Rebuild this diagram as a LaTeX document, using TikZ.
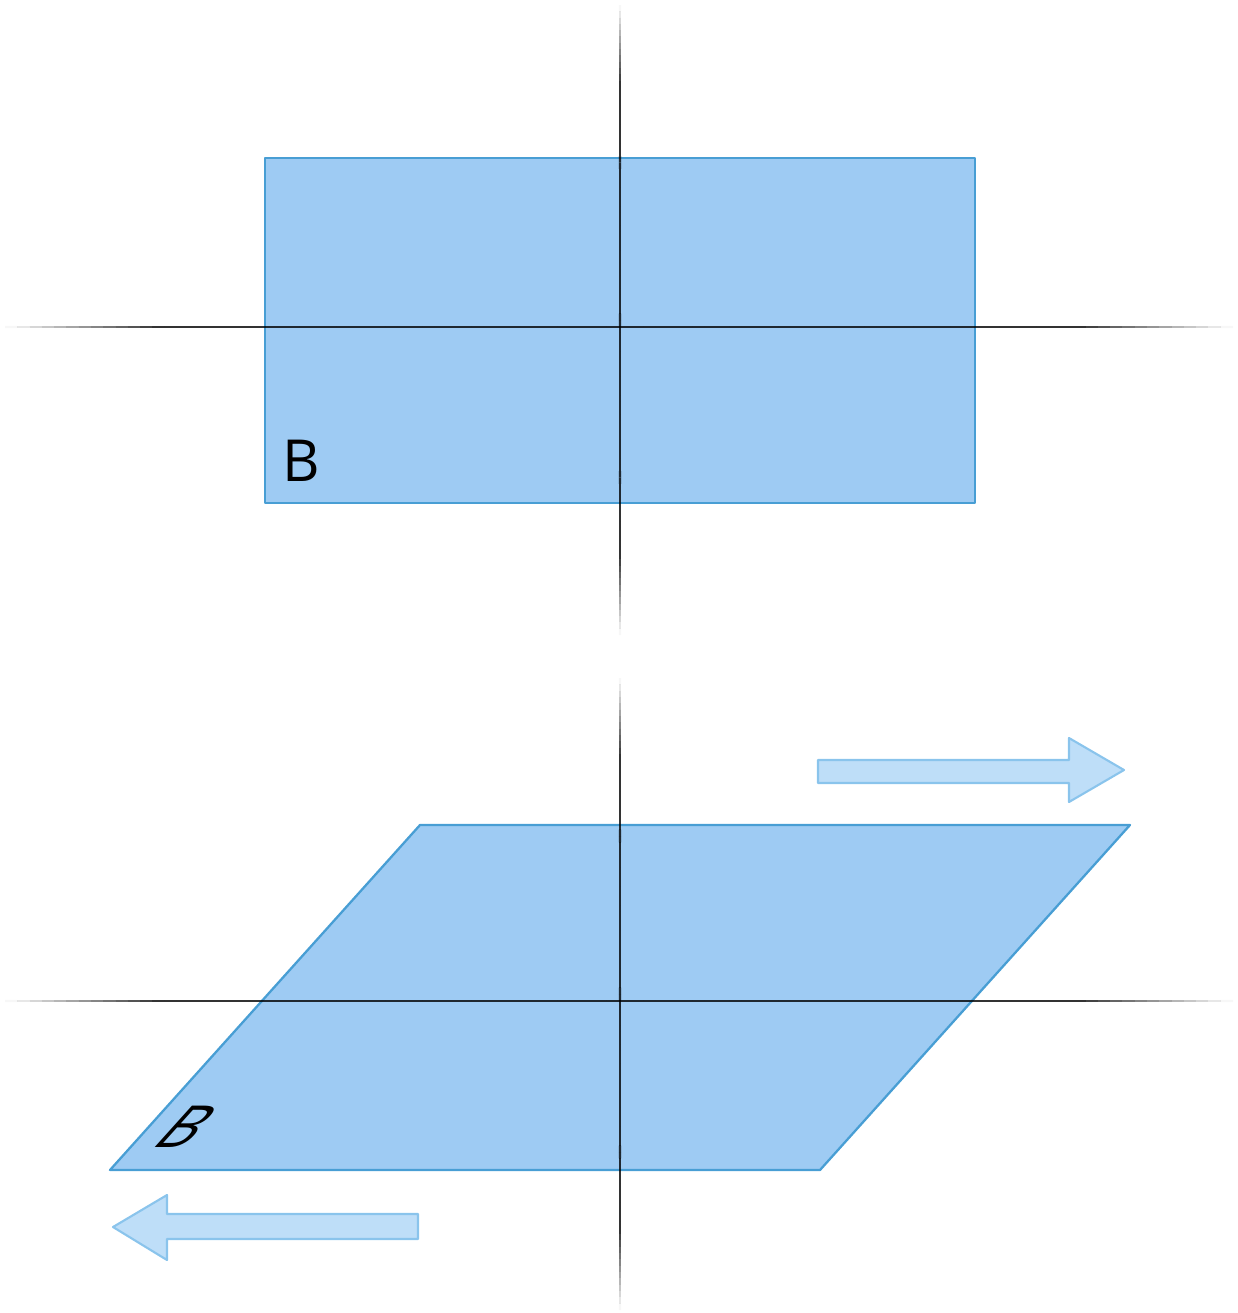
\documentclass[tikz,border=0pt]{standalone}
\usepackage{fontspec}
\newfontfamily\labelfont{Open Sans}
\usetikzlibrary{calc}
\definecolor{plate}{RGB}{158,203,243}
\definecolor{plateedge}{RGB}{72,158,212}
\definecolor{shiftfill}{RGB}{190,222,248}
\definecolor{shiftedge}{RGB}{138,196,236}

% axis line that fades out at both ends
\newcommand{\fadeaxis}[2]{%
  \foreach \i in {0,...,99} {
    \pgfmathsetmacro{\t}{\i/100}
    \pgfmathsetmacro{\tn}{(\i+1)/100}
    \pgfmathsetmacro{\op}{0.8*min(1,8*min(\t+0.005,0.995-\t))}
    \draw[black, opacity=\op, line width=1.4pt] ($(#1)!\t!(#2)$) -- ($(#1)!\tn!(#2)$);
  }}

\begin{document}
\begin{tikzpicture}[x=0.02cm, y=-0.02cm,
    plate/.style={fill=plate, draw=plateedge, line width=1.3pt, line join=round},
    shiftarrow/.style={fill=shiftfill, draw=shiftedge, line width=1.2pt, line join=round},
    letter/.style={inner sep=0pt, anchor=base west, font=\labelfont\fontsize{33}{36}\selectfont}]
    \useasboundingbox (0,0) rectangle (1238,1313);

    % 上图: 矩形
    \coordinate (tn) at (620,5);
    \coordinate (ts) at (620,635);
    \coordinate (tw) at (5,327);
    \coordinate (te) at (1233,327);
    \draw[plate] (265,158) rectangle (975,503);
    \node[letter] (topB) at (282,481) {B};
    \fadeaxis{tw}{te}
    \fadeaxis{tn}{ts}

    % 下图: 剪切后的平行四边形
    \coordinate (bn) at (620,678);
    \coordinate (bs) at (620,1310);
    \coordinate (bw) at (5,1001);
    \coordinate (be) at (1233,1001);
    \draw[plate] (420,825) -- (1130,825) -- (820,1170) -- (110,1170) -- cycle;
    \node[letter, xslant=0.9, transform shape] (botB) at (149,1147) {B};
    \fadeaxis{bw}{be}
    \fadeaxis{bn}{bs}

    % 剪切方向箭头
    \draw[shiftarrow] (818,760) -- (1069,760) -- (1069,738) -- (1124,770)
        -- (1069,802) -- (1069,783) -- (818,783) -- cycle;
    \draw[shiftarrow] (418,1214) -- (167,1214) -- (167,1195) -- (113,1227)
        -- (167,1260) -- (167,1239) -- (418,1239) -- cycle;
\end{tikzpicture}
\end{document}
